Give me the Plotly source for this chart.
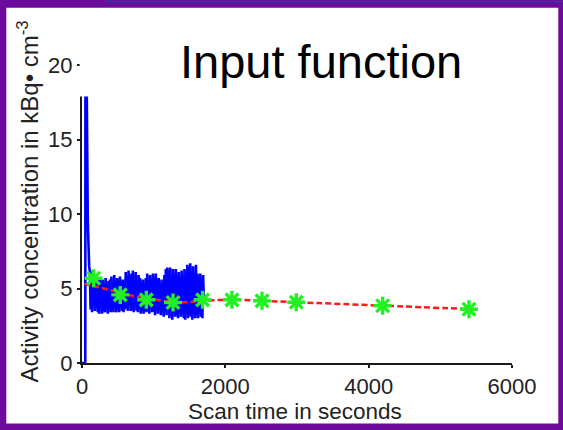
import plotly.graph_objects as go

# ---- data ----
blue_t_early = [0, 20, 40, 46, 50, 55, 60, 65, 70, 75, 80, 85, 90, 95, 100]
blue_v_early = [0, 0, 0, 0.1, 40, 30, 22, 17, 14, 11.5, 10, 8.8, 7.8, 7.0, 6.5]

blue_v_noise = [
    6.1, 3.6, 5.8, 3.4, 6.2, 3.9, 5.5, 3.5, 5.9, 3.7,
    5.6, 3.4, 5.2, 3.3, 5.7, 3.8, 5.4, 3.3, 5.6, 3.5,
    5.0, 3.4, 5.7, 3.6, 5.3, 3.3, 5.5, 3.9, 5.6, 3.4,
    5.8, 3.5, 5.4, 3.4, 5.9, 3.7, 5.1, 3.4, 5.7, 3.6,
    5.5, 3.4, 5.8, 3.8, 5.3, 3.5, 5.6, 3.4, 5.2, 3.6,
    6.1, 3.7, 5.6, 3.5, 6.2, 3.9, 5.8, 3.5, 6.0, 3.6,
    6.2, 3.4, 5.7, 3.8, 6.1, 3.5, 5.5, 3.4, 5.9, 3.7,
    5.7, 3.3, 5.4, 3.6, 5.6, 3.3, 5.2, 3.5, 5.7, 3.4,
    6.0, 3.6, 5.5, 3.3, 5.9, 3.8, 5.6, 3.4, 6.0, 3.5,
    5.8, 3.2, 6.0, 3.6, 5.4, 3.3, 5.7, 3.5, 5.3, 3.2,
    5.6, 3.4, 5.2, 3.1, 5.9, 3.5, 6.3, 3.2, 6.4, 3.6,
    6.2, 3.0, 6.4, 3.4, 5.8, 2.9, 6.3, 3.3, 6.0, 3.1,
    6.3, 3.2, 5.9, 3.0, 6.1, 3.4, 5.6, 3.1, 6.2, 3.3,
    5.8, 3.0, 6.3, 2.9, 5.7, 3.3, 6.6, 3.0, 6.4, 3.2,
    6.7, 3.1, 6.2, 2.9, 6.5, 3.3, 5.9, 3.0, 6.6, 3.2,
    6.0, 3.0, 5.8, 3.3, 6.0, 3.1, 5.7, 3.0, 5.9, 4.2,
]
blue_t_noise = list(range(110, 1701, 10))

fit_t = [35, 160, 300, 535, 700, 900, 1100, 1270, 1450, 1683, 2093, 2512, 2990, 4195, 5400]
fit_v = [5.3, 5.17, 5.0, 4.72, 4.52, 4.35, 4.2, 4.1, 4.08, 4.18, 4.24, 4.17, 4.08, 3.85, 3.62]

sample_t = [162, 534, 897, 1270, 1683, 2093, 2512, 2990, 4195, 5400]
sample_v = [5.69, 4.57, 4.24, 4.06, 4.24, 4.24, 4.17, 4.08, 3.84, 3.61]

x_ticks = [0, 2000, 4000, 6000]
y_ticks = [0, 5, 10, 15, 20]

title_text = "Input function"
x_title = "Scan time in seconds"
y_title = "Activity concentration in kBq\u2022 cm<sup>-3</sup>"

# ---- figure ----
W, H = 563, 430
L, R, T, B = 81.7, 51.3, 64.5, 66.7
pw, ph = W - L - R, H - T - B


def px(xp):
    return (xp - L) / pw


def py(yp):
    return (H - B - yp) / ph


FONT = "Liberation Sans, Arial, sans-serif"
GREEN = "#22f022"

fig = go.Figure()
fig.add_trace(go.Scatter(x=blue_t_early + blue_t_noise, y=blue_v_early + blue_v_noise,
                         mode="lines", line=dict(color="#0000ff", width=2.6),
                         hoverinfo="skip", showlegend=False))
fig.add_trace(go.Scatter(x=fit_t, y=fit_v, mode="lines",
                         line=dict(color="#ff1a1a", width=2.5, dash="6px,3px", shape="spline"),
                         showlegend=False))
fig.add_trace(go.Scatter(x=sample_t, y=sample_v, mode="markers",
                         marker=dict(symbol="asterisk-open", size=15, color=GREEN,
                                     line=dict(color=GREEN, width=3.4)),
                         showlegend=False))

axis_common = dict(showline=True, linecolor="#1a1a1a", linewidth=2, ticks="outside",
                   ticklen=3, tickwidth=2, tickcolor="#1a1a1a", showgrid=False,
                   zeroline=False, tickfont=dict(family=FONT, size=22, color="#222"))

fig.update_xaxes(range=[0, 6000], tickvals=x_ticks, ticktext=[str(v) for v in x_ticks],
                 **axis_common)
fig.update_yaxes(range=[0, 20], tickvals=y_ticks, ticktext=[str(v) for v in y_ticks],
                 **axis_common)

shapes = [
    # white slide area
    dict(type="rect", xref="paper", yref="paper", x0=px(6), x1=px(558), y0=py(424), y1=py(7),
         fillcolor="white", line=dict(width=0), layer="below"),
    # thin blue strip at the very top
    dict(type="rect", xref="paper", yref="paper", x0=px(105), x1=px(563), y0=py(1.5), y1=py(0),
         fillcolor="#2c3aa6", line=dict(width=0), layer="below"),
    # white title box covering the top of the plot
    dict(type="rect", xref="paper", yref="paper", x0=px(79.3), x1=px(557), y0=py(96), y1=py(28),
         fillcolor="white", line=dict(width=0), layer="above"),
]

annotations = [
    dict(text=title_text, xref="paper", yref="paper", x=px(320.5), y=py(61),
         xanchor="center", yanchor="middle", showarrow=False,
         font=dict(family=FONT, size=47, color="#000")),
    dict(text=x_title, xref="paper", yref="paper", x=px(295), y=py(412),
         xanchor="center", yanchor="middle", showarrow=False,
         font=dict(family=FONT, size=22.5, color="#222")),
    dict(text=y_title, xref="paper", yref="paper", x=px(28), y=py(201),
         xanchor="center", yanchor="middle", showarrow=False, textangle=-90,
         font=dict(family=FONT, size=24, color="#222")),
]

fig.update_layout(width=W, height=H,
                  margin=dict(l=L, r=R, t=T, b=B, pad=0, autoexpand=False),
                  paper_bgcolor="#6b0a9c", plot_bgcolor="rgba(0,0,0,0)",
                  shapes=shapes, annotations=annotations, showlegend=False)

fig.write_html("out.html", config={"displayModeBar": False},
               post_script="document.body.style.margin='0';document.body.style.overflow='hidden';")
